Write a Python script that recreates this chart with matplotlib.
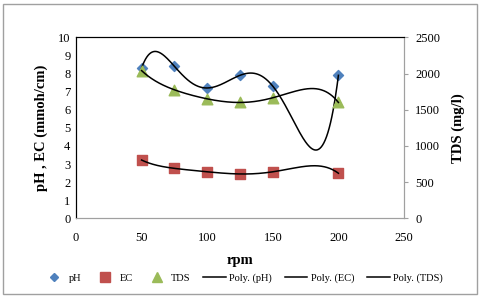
import matplotlib
matplotlib.use("Agg")
import matplotlib.pyplot as plt
import numpy as np
from matplotlib.lines import Line2D
from matplotlib.patches import Rectangle

plt.rcParams['font.family'] = ['Liberation Serif', 'DejaVu Serif']

# Дані
rpm = [50, 75, 100, 125, 150, 200]
ph = [8.3, 8.4, 7.2, 7.9, 7.3, 7.9]
ec = [3.22, 2.76, 2.57, 2.45, 2.57, 2.49]
tds = [2040, 1775, 1650, 1600, 1665, 1600]

# Поліноміальні тренди
x_fit = np.linspace(50, 200, 300)
ph_fit = np.polyval(np.polyfit(rpm, ph, 5), x_fit)
ec_fit = np.polyval(np.polyfit(rpm, ec, 5), x_fit)
tds_fit = np.polyval(np.polyfit(rpm, tds, 5), x_fit)

fig = plt.figure(figsize=(4.8, 2.98), dpi=100)
ax = fig.add_axes([0.1583, 0.2674, 0.6834, 0.6074])
ax2 = ax.twinx()

ax.scatter(rpm, ph, marker="D", s=26, color="#4F81BD", zorder=3)
ax.scatter(rpm, ec, marker="s", s=48, color="#C0504D", zorder=3)
ax2.scatter(rpm, tds, marker="^", s=58, color="#9BBB59", zorder=3)
ax.plot(x_fit, ph_fit, color="black", lw=1.1, zorder=4)
ax.plot(x_fit, ec_fit, color="black", lw=1.1, zorder=4)
ax2.plot(x_fit, tds_fit, color="black", lw=1.1, zorder=4)

ax.set_xlim(0, 250)
ax.set_ylim(0, 10)
ax2.set_ylim(0, 2500)
ax.set_xticks(range(0, 251, 50))
ax.set_yticks(range(0, 11))
ax2.set_yticks(range(0, 2501, 500))

for a in (ax, ax2):
    a.spines['left'].set_color("black")
    a.spines['top'].set_color("black")
    a.spines['right'].set_color("#A0A0A0")
    a.spines['bottom'].set_color("#A0A0A0")
ax.tick_params(axis='x', length=0, labelsize=9, pad=10)
ax.tick_params(axis='y', length=0, labelsize=9, pad=4)
ax2.tick_params(axis='y', length=3, color="#A0A0A0", labelsize=9, pad=5)

ax.set_xlabel("rpm", fontsize=10.5, fontweight="bold", labelpad=7)
ax.set_ylabel("pH , EC (mmoh/cm)", fontsize=10.5, fontweight="bold", labelpad=7)
ax2.set_ylabel("TDS (mg/l)", fontsize=10.5, fontweight="bold", labelpad=8)

handles = [
    Line2D([], [], marker="D", color="#4F81BD", ls="none", ms=4.5),
    Line2D([], [], marker="s", color="#C0504D", ls="none", ms=6.5),
    Line2D([], [], marker="^", color="#9BBB59", ls="none", ms=6.5),
    Line2D([], [], color="black", lw=1.1),
    Line2D([], [], color="black", lw=1.1),
    Line2D([], [], color="black", lw=1.1),
]
labels = ["pH", "EC", "TDS", "Poly. (pH)", "Poly. (EC)", "Poly. (TDS)"]
fig.legend(handles, labels, loc="center", bbox_to_anchor=(0.505, 0.067), ncol=6,
           frameon=False, fontsize=7.5, handlelength=2.2, columnspacing=1.2,
           handletextpad=0.3)

fig.patches.append(Rectangle((0.006, 0.012), 0.988, 0.976, transform=fig.transFigure,
                             fill=False, edgecolor="#A0A0A0", lw=1))

fig.savefig("out.png", dpi=100)
